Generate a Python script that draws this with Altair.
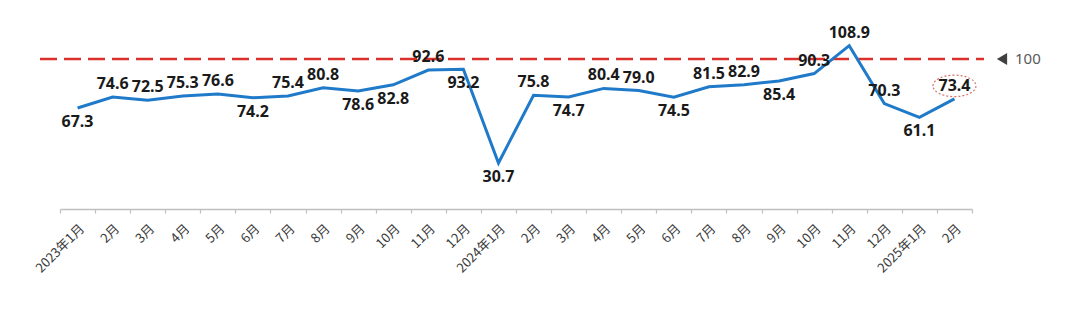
import altair as alt
import pandas as pd

months = ["2023年1月", "2月", "3月", "4月", "5月", "6月", "7月", "8月", "9月", "10月", "11月", "12月",
          "2024年1月", "2月 ", "3月 ", "4月 ", "5月 ", "6月 ", "7月 ", "8月 ", "9月 ", "10月 ", "11月 ", "12月 ",
          "2025年1月", "2月  "]
values = [67.3, 74.6, 72.5, 75.3, 76.6, 74.2, 75.4, 80.8, 78.6, 82.8, 92.6, 93.2,
          30.7, 75.8, 74.7, 80.4, 79.0, 74.5, 81.5, 82.9, 85.4, 90.3, 108.9, 70.3,
          61.1, 73.4]
placement = ["below", "above", "above", "above", "above", "below", "above", "above", "below", "below", "above", "below",
             "below", "above", "below", "above", "above", "below", "above", "above", "below", "above", "above", "above",
             "below", "above"]
ref_value = 100
ref_label = "100"

df = pd.DataFrame({"month": months, "value": values, "pos": placement})
df["label"] = df["value"].map(lambda v: f"{v:.1f}")

W, H = 912, 180
yscale = alt.Scale(domain=[0, 120])

x = alt.X("month:N", sort=months, scale=alt.Scale(paddingInner=0, paddingOuter=0),
          axis=alt.Axis(title=None, labelAngle=-45, tickBand="extent", labelFont="Noto Sans CJK SC",
                        labelFontSize=13, labelColor="#3a3a3a", domainColor="#bfbfbf", domainWidth=1.5,
                        tickColor="#bfbfbf", tickSize=4, tickWidth=1.2, labelPadding=9))
y = alt.Y("value:Q", scale=yscale, axis=None)

base = alt.Chart(df)

line = base.mark_line(color="#1f7ac9", strokeWidth=3).encode(x=x, y=y)

txt_style = dict(font="Noto Sans", fontSize=16, fontWeight="bold", color="#1a1a1a")
above = base.transform_filter(alt.datum.pos == "above").mark_text(dy=-13, **txt_style).encode(
    x=x, y=y, text="label:N")
below = base.transform_filter(alt.datum.pos == "below").mark_text(dy=14, **txt_style).encode(
    x=x, y=y, text="label:N")

ellipse_path = "M -1 0 A 1 0.5 0 1 1 1 0 A 1 0.5 0 1 1 -1 0 Z"
ellipse = base.transform_filter(alt.datum.month == months[-1]).mark_point(
    shape=ellipse_path, size=1850, filled=False, stroke="#c0392b", strokeWidth=1.2,
    strokeDash=[2, 2], yOffset=-13).encode(x=x, y=y)

refdf = pd.DataFrame({"v": [ref_value], "t": [ref_label]})
ry = alt.Y("v:Q", scale=yscale, axis=None)
rule = alt.Chart(refdf).mark_rule(color="#d9302c", strokeWidth=2.5, strokeDash=[17, 7]).encode(
    y=ry, x=alt.value(-20), x2=alt.value(W + 12))
tri = alt.Chart(refdf).mark_point(shape="triangle-left", filled=True, color="#404040", size=140, opacity=1).encode(
    y=ry, x=alt.value(W + 30))
reftxt = alt.Chart(refdf).mark_text(align="left", font="Noto Sans", fontSize=15, color="#595959").encode(
    y=ry, x=alt.value(W + 43), text="t:N")

chart = alt.layer(rule, line, above, below, ellipse, tri, reftxt).properties(
    width=W, height=H,
    background="white",
    autosize=alt.AutoSizeParams(type="none"),
    padding={"left": 60, "top": 29, "right": 108, "bottom": 127},
).configure_view(stroke=None)

chart.save("out.html", embed_options={"renderer": "svg", "actions": False})
